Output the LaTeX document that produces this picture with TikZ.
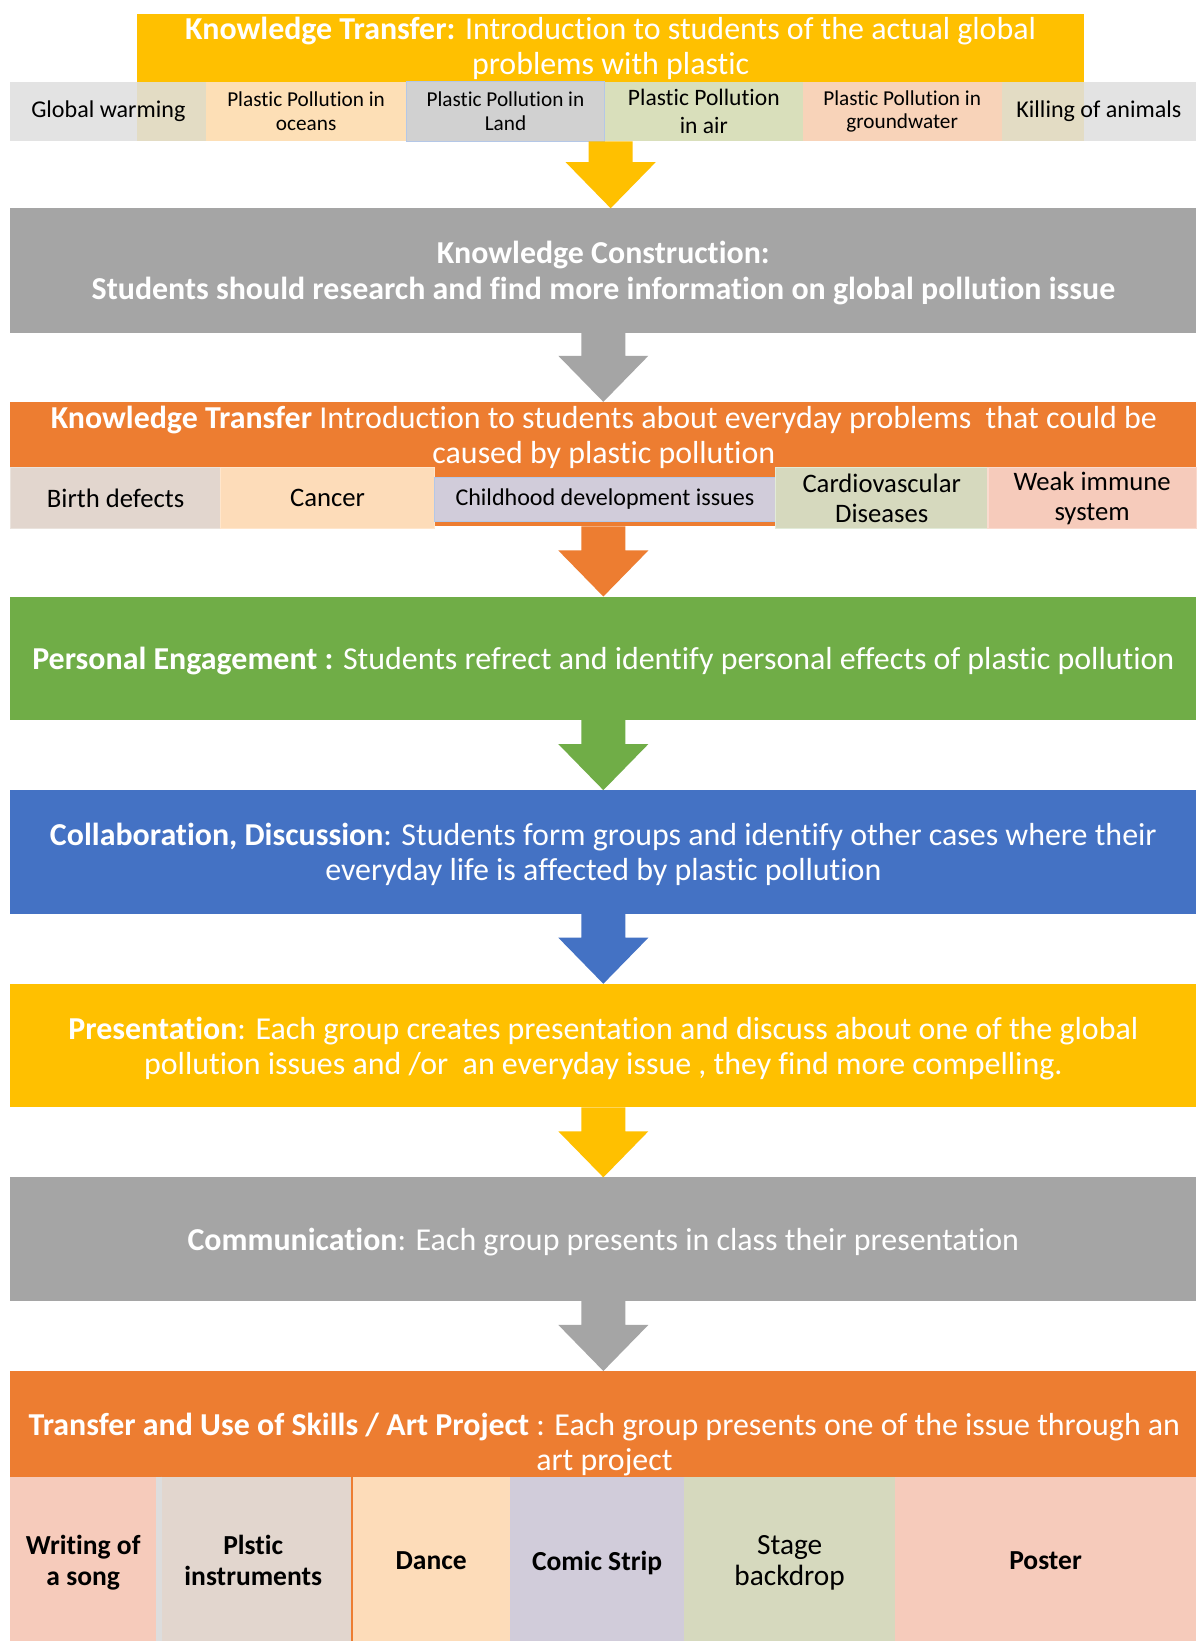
\documentclass[tikz,border=0pt]{standalone}
\usepackage{fontspec}
\setmainfont{Carlito}[Ligatures={NoCommon,NoRequired,NoContextual}]
\usetikzlibrary{calc}
\definecolor{cyel}{HTML}{FFC000}
\definecolor{cgry}{HTML}{A5A5A5}
\definecolor{corg}{HTML}{ED7D31}
\definecolor{cgrn}{HTML}{70AD47}
\definecolor{cblu}{HTML}{4472C4}
\definecolor{sgray}{HTML}{E0E0E0}
\definecolor{speach}{HTML}{FDDFB6}
\definecolor{sland}{HTML}{D1D1D1}
\definecolor{sair}{HTML}{D9DFBB}
\definecolor{sground}{HTML}{F8D3B9}
\definecolor{sbirth}{HTML}{E2D6CE}
\definecolor{scancer}{HTML}{FDDCB9}
\definecolor{slav}{HTML}{D1CCDA}
\definecolor{sgreen}{HTML}{D6D9BE}
\definecolor{ssalmon}{HTML}{F6CBBB}
\definecolor{bblue}{HTML}{B4C7E7}
\definecolor{bbirth}{HTML}{EAE3DD}
\definecolor{bpeach}{HTML}{FFE6CC}
\definecolor{bgreen}{HTML}{E2EBD8}
\definecolor{bsalmon}{HTML}{FADBCF}
\definecolor{bgray}{HTML}{DDDDDD}
\newcommand{\flowarr}[3]{%
  \fill[#3] ($(#1.south)+(-21,0)$) -- ($(#1.south)+(21,0)$)
    -- ($(#1.south |- #2.north)+(21,-44)$) -- ($(#1.south |- #2.north)+(43,-44)$)
    -- (#1.south |- #2.north)
    -- ($(#1.south |- #2.north)+(-43,-44)$) -- ($(#1.south |- #2.north)+(-21,-44)$) -- cycle;}
\begin{document}
\begin{tikzpicture}[x=1pt,y=-1pt,
  box/.style={rectangle, inner sep=0pt, outer sep=0pt, anchor=north west, draw=none, align=center},
  mtext/.style={text=white, align=center, inner sep=0pt, yshift=-2.5pt, font=\fontsize{30.5}{33.5}\selectfont},
  stext/.style={text=black, font=\fontsize{23}{28}\selectfont},
  ltext/.style={text=black, font=\fontsize{25.5}{28.5}\selectfont},
  smtext/.style={text=black, font=\fontsize{20.3}{22.5}\selectfont},
  btext/.style={text=black, text depth=0pt, yshift=-3pt, font=\fontsize{28}{30}\selectfont},
  bbtext/.style={btext, font=\fontsize{26.3}{30}\selectfont\bfseries},
]
\useasboundingbox (0,0) rectangle (1143,1568);
\fill[white] (0,0) rectangle (1143,1568);

% ---- Stage 1
\node[box, fill=cyel, minimum width=905, minimum height=122] (kt1) at (131,13) {};
\node[mtext] (kt1t) at (583.5,44) {\textbf{Knowledge Transfer:} Introduction to students of the actual global\\problems with plastic};
\node[box, stext, fill=sgray, fill opacity=0.88, text opacity=1, minimum width=187, minimum height=57] (gw) at (10,78) {Global warming};
\node[box, smtext, fill=speach, minimum width=191, minimum height=57] (oc) at (197,78) {Plastic Pollution in\\oceans};
\node[box, smtext, fill=sland, draw=bblue, line width=1, minimum width=190, minimum height=57] (la) at (388,78) {Plastic Pollution in\\Land};
\node[box, text=black, font=\fontsize{22.5}{26}\selectfont, fill=sair, minimum width=189, minimum height=57] (ai) at (578,78) {Plastic Pollution\\in air};
\node[box, smtext, fill=sground, minimum width=190, minimum height=57] (gr) at (767,78) {Plastic Pollution in\\groundwater};
\node[box, stext, fill=sgray, fill opacity=0.88, text opacity=1, minimum width=186, minimum height=57] (ka) at (957,78) {Killing of animals};

% ---- Stage 2
\node[box, fill=cgry, minimum width=1133, minimum height=119] (kc) at (10,199) {};
\node[mtext, font=\fontsize{30.5}{34}\selectfont\bfseries] (kct) at (kc.center) {Knowledge Construction:\\Students should research and find more information on global pollution issue};
\flowarr{kt1}{kc}{cyel}

% ---- Stage 3
\node[box, fill=corg, minimum width=1133, minimum height=119] (kt2) at (10,384) {};
\node[mtext] (kt2t) at (577,415) {\textbf{Knowledge Transfer} Introduction to students about everyday problems\ \ that could be\\caused by plastic pollution};
\node[box, ltext, fill=sbirth, draw=bbirth, line width=1.2, minimum width=201, minimum height=58] (bd) at (10,447) {Birth defects};
\node[box, ltext, fill=scancer, draw=bpeach, line width=1.2, minimum width=204, minimum height=58] (ca) at (211,447) {Cancer};
\node[box, stext, fill=slav, draw=bblue, line width=1, minimum width=326, minimum height=42] (ch) at (415,456) {Childhood development issues};
\node[box, ltext, fill=sgreen, draw=bgreen, line width=1.2, minimum width=203, minimum height=58] (cv) at (741,447) {Cardiovascular\\Diseases};
\node[box, ltext, fill=ssalmon, draw=bsalmon, line width=1.2, minimum width=199, minimum height=58] (wi) at (944,447) {Weak immune\\system};

% ---- Stage 4
\node[box, fill=cgrn, minimum width=1133, minimum height=118] (pe) at (10,570) {};
\node[mtext] (pet) at (pe.center) {\textbf{Personal Engagement :} Students refrect and identify personal effects of plastic pollution};

% ---- Stage 5
\node[box, fill=cblu, minimum width=1133, minimum height=118] (cd) at (10,755) {};
\node[mtext] (cdt) at (cd.center) {\textbf{Collaboration, Discussion}: Students form groups and identify other cases where their\\everyday life is affected by plastic pollution};

% ---- Stage 6
\node[box, fill=cyel, minimum width=1133, minimum height=118] (pr) at (10,940) {};
\node[mtext] (prt) at (pr.center) {\textbf{Presentation}: Each group creates presentation and discuss about one of the global\\pollution issues and /or\ \ an everyday issue , they find more compelling.};

% ---- Stage 7
\node[box, fill=cgry, minimum width=1133, minimum height=118] (cm) at (10,1125) {};
\node[mtext] (cmt) at (cm.center) {\textbf{Communication}: Each group presents in class their presentation};

% ---- Stage 8
\node[box, fill=corg, minimum width=1133, minimum height=258] (tu) at (10,1310) {};
\node[mtext] (tut) at (577.5,1378) {\textbf{Transfer and Use of Skills / Art Project} : Each group presents one of the issue through an\\art project};
\node[box, bbtext, fill=ssalmon, minimum width=139, minimum height=160] (ws) at (10,1408) {Writing of\\a song};
\node[box, bbtext, fill=sbirth, minimum width=186, minimum height=160] (pi) at (149,1408) {Plstic\\instruments};
\draw[bgray, line width=6] ($(pi.north west)+(3,0)$) -- ($(pi.south west)+(3,0)$);
\node[box, bbtext, fill=scancer, minimum width=150, minimum height=160] (da) at (337,1408) {Dance};
\node[box, bbtext, fill=slav, minimum width=167, minimum height=160] (cs) at (487,1408) {Comic Strip};
\node[box, btext, fill=sgreen, minimum width=201, minimum height=160] (sb) at (654,1408) {Stage\\backdrop};
\node[box, bbtext, fill=ssalmon, minimum width=288, minimum height=160] (po) at (855,1408) {Poster};

% ---- Arrows
\flowarr{kc}{kt2}{cgry}
\flowarr{kt2}{pe}{corg}
\flowarr{pe}{cd}{cgrn}
\flowarr{cd}{pr}{cblu}
\flowarr{pr}{cm}{cyel}
\flowarr{cm}{tu}{cgry}
\end{tikzpicture}
\end{document}
